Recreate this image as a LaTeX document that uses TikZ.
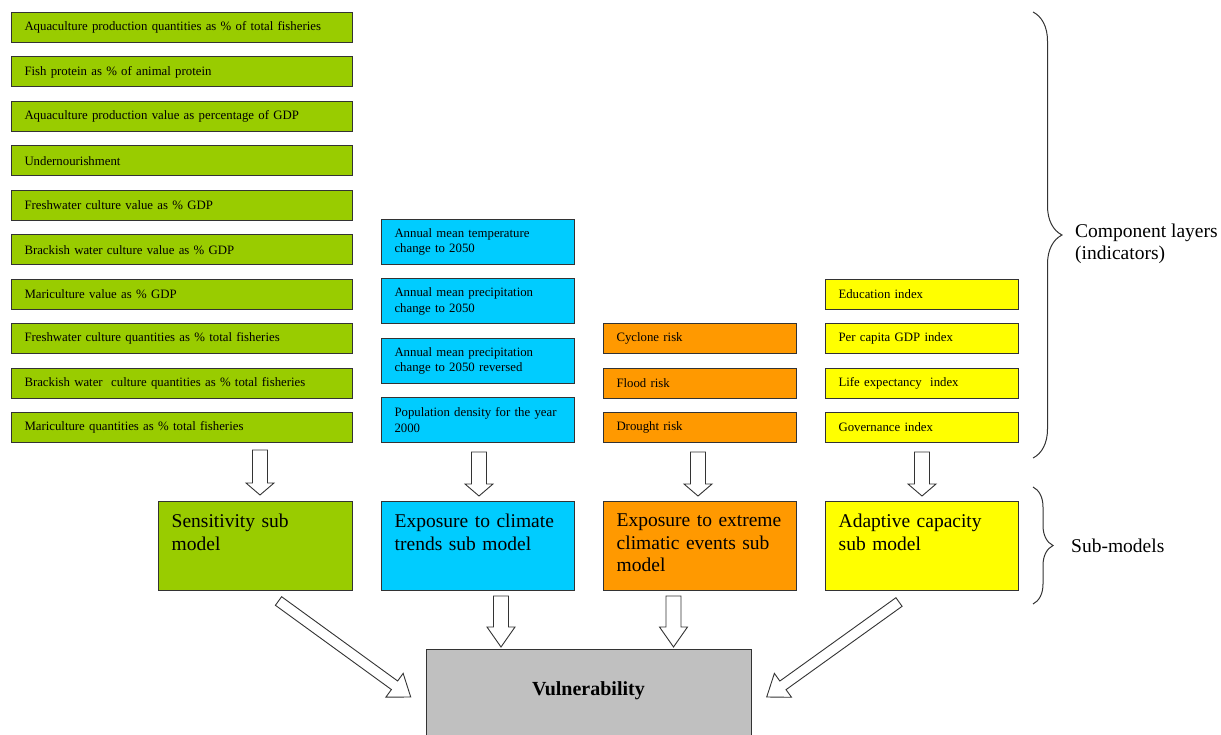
\documentclass[tikz,border=0pt]{standalone}
\usepackage{fontspec}
\setmainfont{Liberation Serif}
\usetikzlibrary{calc,decorations.pathreplacing}
\definecolor{cgreen}{HTML}{99CC00}
\definecolor{cblue}{HTML}{00CCFF}
\definecolor{corange}{HTML}{FF9900}
\definecolor{cyellow}{HTML}{FFFF00}
\definecolor{cgray}{HTML}{C0C0C0}
\definecolor{edge}{HTML}{333333}
\newcommand\smallf{\fontsize{12.8}{15.5}\selectfont}
\newcommand\bigf{\fontsize{19.5}{22.5}\selectfont}
\newcommand\fatarrow[5]{%
  \coordinate (fa-b) at ($(#2)!#5!(#1)$);
  \draw[fatstyle] ($(#1)!#3!90:(#2)$) -- ($(fa-b)!#3!90:(#2)$) -- ($(fa-b)!#4!90:(#2)$) -- (#2)
    -- ($(fa-b)!#4!-90:(#2)$) -- ($(fa-b)!#3!-90:(#2)$) -- ($(#1)!#3!-90:(#2)$) -- cycle;}
\tikzset{
  ind/.style={draw=edge, line width=1pt, anchor=north west, inner xsep=13pt, inner ysep=0pt,
    align=left, font=\smallf, minimum height=30pt},
  gw/.style={ind, fill=cgreen, text width=315pt},
  bw/.style={ind, fill=cblue, text width=167pt, minimum height=45pt},
  ow/.style={ind, fill=corange, text width=167pt},
  yw/.style={ind, fill=cyellow, text width=167pt},
  subbox/.style={draw=edge, line width=1pt, anchor=north west, minimum height=89pt, inner sep=0pt},
  subtext/.style={anchor=north west, inner sep=0pt, text width=172pt, align=left, font=\bigf},
  fatstyle/.style={draw=edge, line width=0.9pt, fill=white, line join=miter},
  brc/.style={draw=edge, line width=1pt, decorate},
  side/.style={anchor=west, inner sep=0pt, align=left, font=\bigf}
}
\begin{document}
\begin{tikzpicture}[x=1pt,y=-1pt]
\useasboundingbox (0,0) rectangle (1221,734);
% green indicators
\node[gw] (g1) at (11,12) {Aquaculture production quantities as \% of total fisheries};
\node[gw] (g2) at (11,56.4) {Fish protein as \% of animal protein};
\node[gw] (g3) at (11,100.9) {Aquaculture production value as percentage of GDP};
\node[gw] (g4) at (11,145.3) {Undernourishment};
\node[gw] (g5) at (11,189.8) {Freshwater culture value as \% GDP};
\node[gw] (g6) at (11,234.2) {Brackish water culture value as \% GDP};
\node[gw] (g7) at (11,278.7) {Mariculture value as \% GDP};
\node[gw] (g8) at (11,323.1) {Freshwater culture quantities as \% total fisheries};
\node[gw] (g9) at (11,367.6) {Brackish water\ \ culture quantities as \% total fisheries};
\node[gw] (g10) at (11,412) {Mariculture quantities as \% total fisheries};
% blue indicators
\node[bw] (b1) at (381,219) {Annual mean temperature\\change to 2050};
\node[bw] (b2) at (381,278.3) {Annual mean precipitation\\change to 2050};
\node[bw] (b3) at (381,337.7) {Annual mean precipitation\\change to 2050 reversed};
\node[bw] (b4) at (381,397) {Population density for the year\\2000};
% orange indicators
\node[ow] (o1) at (603,323.1) {Cyclone risk};
\node[ow] (o2) at (603,367.6) {Flood risk};
\node[ow] (o3) at (603,412) {Drought risk};
% yellow indicators
\node[yw] (y1) at (825,278.7) {Education index};
\node[yw] (y2) at (825,323.1) {Per capita GDP index};
\node[yw] (y3) at (825,367.6) {Life expectancy\ \ index};
\node[yw] (y4) at (825,412) {Governance index};
% sub-models
\node[subbox, fill=cgreen, minimum width=194pt] (s1) at (158,501) {};
\node[subbox, fill=cblue, minimum width=193pt] (s2) at (381,501) {};
\node[subbox, fill=corange, minimum width=193pt] (s3) at (603,501) {};
\node[subbox, fill=cyellow, minimum width=193pt] (s4) at (825,501) {};
\node[subtext] (s1t) at ([xshift=13.5pt,yshift=-13pt]s1.north west) {Sensitivity sub\\model};
\node[subtext] (s2t) at ([xshift=13.5pt,yshift=-13pt]s2.north west) {Exposure to climate\\trends sub model};
\node[subtext] (s3t) at ([xshift=13.5pt,yshift=-13pt]s3.north west) {Exposure to extreme\\climatic events sub\\model};
\node[subtext] (s4t) at ([xshift=13.5pt,yshift=-13pt]s4.north west) {Adaptive capacity\\sub model};
% vulnerability
\node[draw=edge, line width=1pt, fill=cgray, anchor=north west, minimum width=325pt, minimum height=100pt, inner sep=0pt] (v) at (426,649) {};
\node[inner sep=0pt, font=\fontsize{20}{22}\selectfont\bfseries] (vt) at (588.5,691) {Vulnerability};
% arrows indicators -> sub-models
\coordinate (ta1s) at (260,450); \coordinate (ta1e) at (260,495);
\coordinate (ta2s) at (479,452); \coordinate (ta2e) at (479,496);
\coordinate (ta3s) at (698,452); \coordinate (ta3e) at (698,496);
\coordinate (ta4s) at (922,452); \coordinate (ta4e) at (922,496);
\fatarrow{ta1s}{ta1e}{7.5pt}{14pt}{12pt}
\fatarrow{ta2s}{ta2e}{7.5pt}{14pt}{12pt}
\fatarrow{ta3s}{ta3e}{7.5pt}{14pt}{12pt}
\fatarrow{ta4s}{ta4e}{7.5pt}{14pt}{12pt}
% arrows sub-models -> vulnerability
\coordinate (ba1s) at (278.5,601); \coordinate (ba1e) at (410.7,697);
\coordinate (ba2s) at (501,596); \coordinate (ba2e) at (501,647);
\coordinate (ba3s) at (673.5,596); \coordinate (ba3e) at (673.5,647);
\coordinate (ba4s) at (899,602); \coordinate (ba4e) at (766.7,697);
\fatarrow{ba1s}{ba1e}{5.3pt}{14.7pt}{20pt}
\fatarrow{ba2s}{ba2e}{7.5pt}{14pt}{20pt}
\fatarrow{ba3s}{ba3e}{7.5pt}{14pt}{20pt}
\fatarrow{ba4s}{ba4e}{5.3pt}{14.7pt}{20pt}
% braces
\coordinate (br1a) at (1033,12); \coordinate (br1b) at (1033,458);
\draw[brc, decoration={brace, amplitude=29pt}] (br1a) -- (br1b);
\node[side] (cl) at (1075,244) {Component layers\\(indicators)};
\coordinate (br2a) at (1033,487); \coordinate (br2b) at (1033,604);
\draw[brc, decoration={brace, amplitude=20pt}] (br2a) -- (br2b);
\node[side] (sm) at (1071,545.5) {Sub-models};
\end{tikzpicture}
\end{document}
